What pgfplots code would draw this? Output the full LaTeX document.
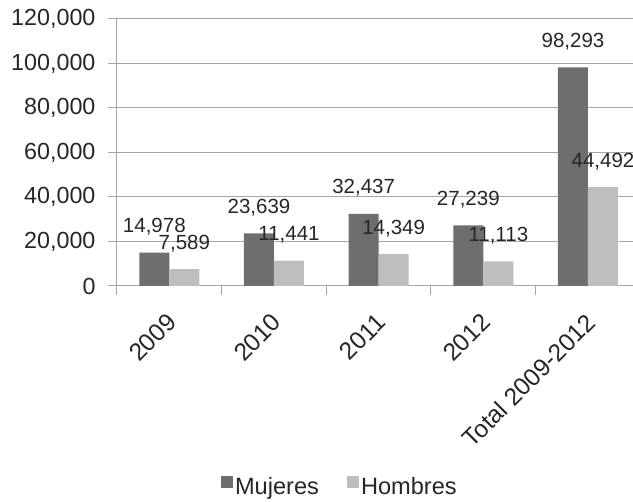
\documentclass[border=0pt]{standalone}
\usepackage{pgfplots}
\pgfplotsset{compat=1.18}
\usepackage{fontspec}
\setmainfont{Liberation Sans}
\usetikzlibrary{calc}

\definecolor{mujeres}{HTML}{6E6E6E}
\definecolor{hombres}{HTML}{BEBEBE}
\definecolor{axisgray}{HTML}{A6A6A6}

\begin{document}
\begin{tikzpicture}
\begin{axis}[
    scale only axis,
    width=516pt, height=267pt,
    ybar=0pt,
    bar width=30pt,
    xmin=-0.5, xmax=4.43,
    ymin=0, ymax=120000,
    xtick={0,1,2,3,4},
    xticklabels={2009,2010,2011,2012,Total 2009-2012},
    minor xtick={-0.5,0.5,1.5,2.5,3.5},
    major x tick style={draw=none},
    ytick={0,20000,40000,60000,80000,100000,120000},
    scaled y ticks=false,
    /pgf/number format/fixed,
    /pgf/number format/1000 sep={,},
    /pgf/number format/assume math mode=true,
    axis lines*=left,
    axis line style={axisgray, line width=1pt},
    tick style={axisgray, line width=1pt},
    tick align=outside,
    major tick length=9pt,
    minor tick length=9pt,
    ymajorgrids,
    grid style={axisgray, line width=1pt},
    tick label style={text=black!85},
    yticklabel style={font=\fontsize{23.3}{26}\selectfont, xshift=-9pt},
    xticklabel style={font=\fontsize{24.5}{28}\selectfont,
        rotate=45, anchor=north east, xshift=-11pt, yshift=-6pt},
    nodes near coords,
    every node near coord/.append style={
        font=\fontsize{20.5}{24}\selectfont, text=black!85,
        anchor=base, yshift=20pt},
    legend style={at={(0.432,-0.753)}, anchor=center, draw=none,
        legend columns=2, font=\fontsize{23.6}{26}\selectfont,
        text=black!85,
        /tikz/every even column/.append style={column sep=26pt},
        /tikz/every odd column/.append style={inner xsep=0pt}},
    legend image code/.code={
        \fill[#1] (-3pt,-1pt) rectangle (9pt,11pt);
    },
]
\addplot[fill=mujeres, draw=none] coordinates {
    (0,14978) (1,23639) (2,32437) (3,27239) (4,98293)
};
\addplot[fill=hombres, draw=none] coordinates {
    (0,7589) (1,11441) (2,14349) (3,11113) (4,44492)
};
\legend{Mujeres, Hombres}
\end{axis}
\pgfresetboundingbox
\path ($(current axis.south west)+(-117pt,-216pt)$) rectangle ($(current axis.north east)+(0pt,19pt)$);
\end{tikzpicture}
\end{document}
